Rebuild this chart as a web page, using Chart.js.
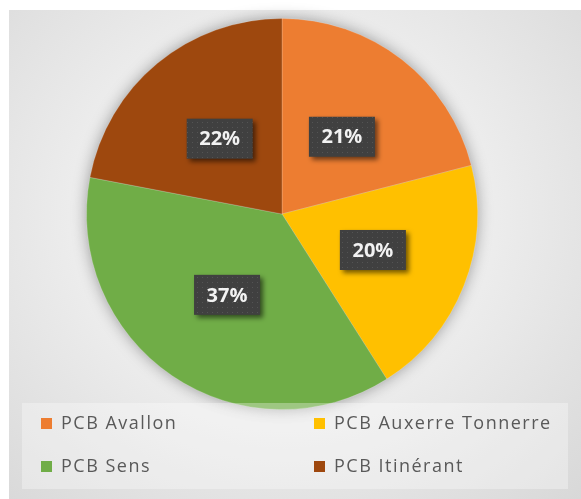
<!DOCTYPE html>
<html>
<head>
<meta charset="utf-8">
<script src="https://cdn.jsdelivr.net/npm/chart.js@4"></script>
<style>
  html, body { margin: 0; padding: 0; background: #ffffff; }
  #bg {
    position: absolute; left: 9px; top: 10px; width: 572px; height: 489px;
    background: radial-gradient(ellipse 75% 80% at 48% 42%, #f8f8f8 0%, #eeeeee 45%, #dedede 85%, #d8d8d8 100%);
  }
  #wrap { position: absolute; left: 0; top: 0; width: 581px; height: 499px; }
</style>
</head>
<body>
<div id="bg"></div>
<div id="wrap"><canvas id="chart" width="581" height="499"></canvas></div>
<script>
// Chart data
const labels = ['PCB Avallon', 'PCB Auxerre Tonnerre', 'PCB Sens', 'PCB Itinérant'];
const shares = [21, 20, 37, 22];
const colors = ['#ED7D31', '#FFC000', '#70AD47', '#9E480E'];

// Small dotted fill for the label boxes
function makeDotPattern(ctx) {
    const p = document.createElement('canvas');
    p.width = 5; p.height = 5;
    const pc = p.getContext('2d');
    pc.fillStyle = '#404040';
    pc.fillRect(0, 0, 5, 5);
    pc.fillStyle = '#545454';
    pc.fillRect(2, 2, 1, 1);
    return ctx.createPattern(p, 'repeat');
}

// Soft shadow disc under the pie
const pieShadow = {
    id: 'pieShadow',
    beforeDatasetsDraw(chart) {
        const arc = chart.getDatasetMeta(0).data[0];
        if (!arc) return;
        const { x, y, outerRadius } = arc.getProps(['x', 'y', 'outerRadius'], true);
        const ctx = chart.ctx;
        ctx.save();
        ctx.shadowColor = 'rgba(0,0,0,0.4)';
        ctx.shadowBlur = 16;
        ctx.fillStyle = '#888';
        ctx.beginPath();
        ctx.arc(x, y, outerRadius - 1, 0, Math.PI * 2);
        ctx.fill();
        ctx.restore();
    }
};

// Legend panel (two columns) drawn over the pie bottom
const legendBox = {
    id: 'legendBox',
    afterDatasetsDraw(chart) {
        const ctx = chart.ctx;
        ctx.save();
        ctx.fillStyle = 'rgba(255,255,255,0.32)';
        ctx.fillRect(22, 403, 546, 86);
        ctx.font = '18px "Open Sans"';
        ctx.letterSpacing = '1.5px';
        ctx.textBaseline = 'middle';
        const cols = [41, 314];
        const rows = [423, 466];
        labels.forEach((lab, i) => {
            const cx = cols[i % 2];
            const cy = rows[Math.floor(i / 2)];
            ctx.fillStyle = colors[i];
            ctx.fillRect(cx, cy - 5, 11, 11);
            ctx.fillStyle = '#595959';
            ctx.fillText(lab, cx + 20, cy + 1);
        });
        ctx.restore();
    }
};

// Percent labels in dark boxes
const percentLabels = {
    id: 'percentLabels',
    afterDraw(chart) {
        const ctx = chart.ctx;
        const pattern = makeDotPattern(ctx);
        const meta = chart.getDatasetMeta(0);
        meta.data.forEach((arc, i) => {
            const pos = arc.tooltipPosition(true);
            const w = 66, h = 40;
            ctx.save();
            ctx.shadowColor = 'rgba(0,0,0,0.55)';
            ctx.shadowBlur = 5;
            ctx.shadowOffsetX = 3;
            ctx.shadowOffsetY = 3;
            ctx.fillStyle = pattern;
            ctx.fillRect(pos.x - w / 2, pos.y - h / 2, w, h);
            ctx.restore();
            ctx.save();
            ctx.fillStyle = '#f2f2f2';
            ctx.font = 'bold 20px "Open Sans"';
            ctx.textAlign = 'center';
            ctx.textBaseline = 'middle';
            ctx.fillText(shares[i] + '%', pos.x, pos.y + 1);
            ctx.restore();
        });
    }
};

new Chart(document.getElementById('chart'), {
    type: 'pie',
    data: {
        labels: labels,
        datasets: [{
            data: shares,
            backgroundColor: colors,
            borderColor: 'rgba(255,255,255,0.18)',
            borderWidth: 1
        }]
    },
    options: {
        responsive: false,
        animation: false,
        layout: { padding: { left: 86, right: 103, top: 18, bottom: 89 } },
        plugins: {
            legend: { display: false },
            tooltip: { enabled: false }
        }
    },
    plugins: [pieShadow, legendBox, percentLabels]
});
</script>
</body>
</html>
